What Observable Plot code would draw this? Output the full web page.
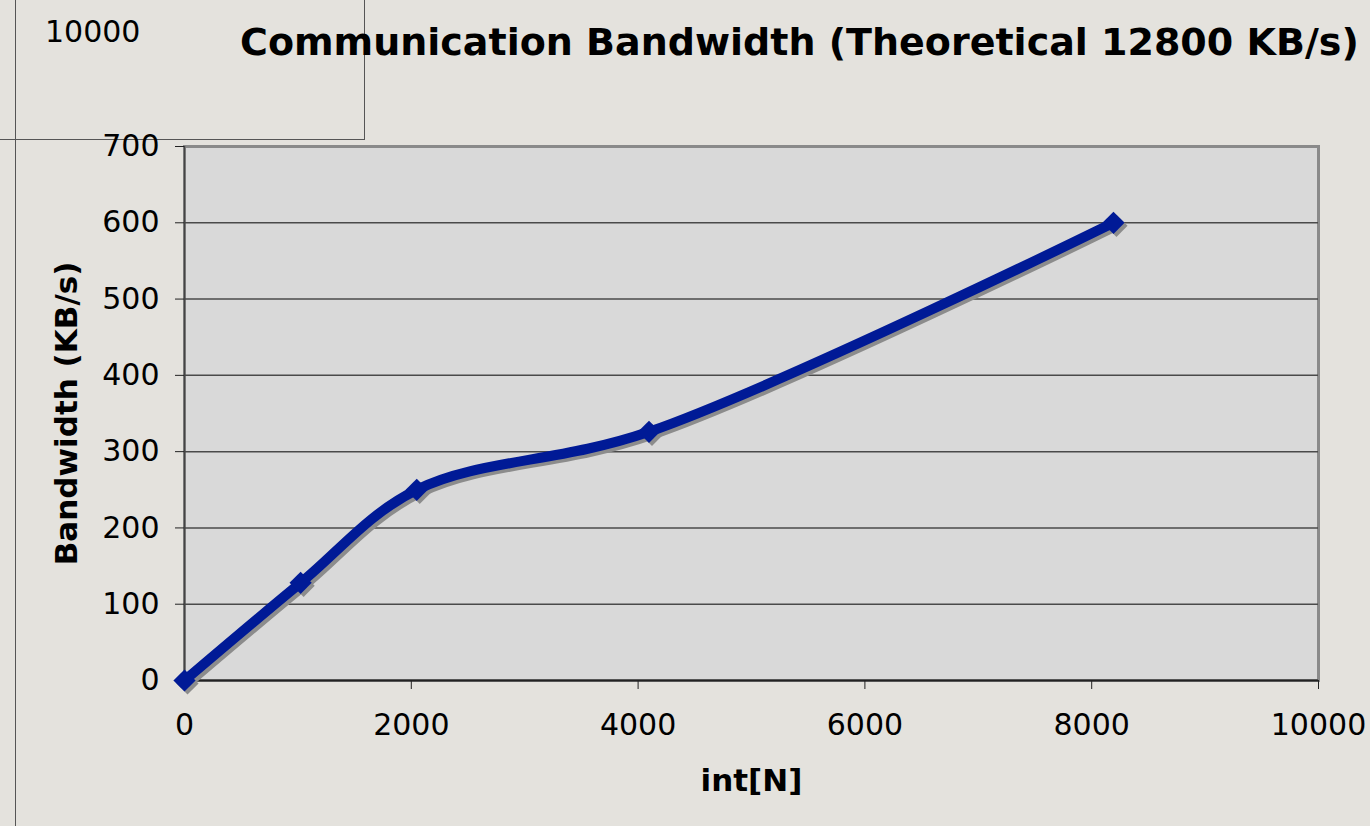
<!DOCTYPE html>
<html>
<head>
<meta charset="utf-8">
<script src="https://cdn.jsdelivr.net/npm/d3@7"></script>
<script src="https://cdn.jsdelivr.net/npm/@observablehq/plot@0.6"></script>
<style>
  html, body { margin: 0; padding: 0; }
  body {
    width: 1370px; height: 826px; overflow: hidden; position: relative;
    background: #e4e2dd;
    font-family: "DejaVu Sans", Verdana, sans-serif;
  }
  #chart { position: absolute; left: 0; top: 0; }
  .title {
    position: absolute; left: 240px; top: 19px; white-space: nowrap; line-height: 46px;
    font-weight: bold; font-size: 38px; color: #000;
  }
  .corner-text { position: absolute; left: 45px; top: 14px; font-size: 30px; line-height: 36px; color: #000; }
  .box { position: absolute; left: 0; top: 0; width: 365px; height: 140px;
         border-right: 1.5px solid #555; border-bottom: 1.5px solid #555; box-sizing: border-box; }
  .vline { position: absolute; left: 15px; top: 0; width: 0; height: 826px; border-left: 1.5px solid #555; }
</style>
</head>
<body>
<div class="box"></div>
<div class="vline"></div>
<div class="corner-text">10000</div>
<div class="title">Communication Bandwidth (Theoretical 12800 KB/s)</div>
<div id="chart"></div>
<script>
const nValues = [0, 1024, 2048, 4096, 8192];
const bandwidth = [0, 128, 250, 326, 600];
const xTicks = [0, 2000, 4000, 6000, 8000, 10000];
const yTicks = [0, 100, 200, 300, 400, 500, 600, 700];
const xLabel = "int[N]";
const yLabel = "Bandwidth (KB/s)";

const data = nValues.map((n, i) => ({n, bw: bandwidth[i]}));

const chart = Plot.plot({
  width: 1370,
  height: 826,
  marginLeft: 184,
  marginRight: 52,
  marginTop: 146,
  marginBottom: 146,
  style: {background: "transparent", fontFamily: "DejaVu Sans, Verdana, sans-serif", fontSize: "30px", color: "#000"},
  x: {domain: [0, 10000], ticks: xTicks, tickFormat: d => String(d), label: null},
  y: {domain: [0, 700], ticks: yTicks, tickFormat: d => String(d), label: null},
  marks: [
    Plot.frame({fill: "#d9d9d9", stroke: "#8a8a8a", strokeWidth: 3}),
    Plot.gridY(yTicks.filter(d => d > 0 && d < 700), {stroke: "#4a4a4a", strokeOpacity: 1, strokeWidth: 1.5}),
    Plot.ruleY([0], {stroke: "#222", strokeWidth: 2}),
    Plot.ruleX([0], {stroke: "#444", strokeWidth: 1.5}),
    Plot.axisX(xTicks, {tickSize: 9, tickPadding: 24, stroke: "#222", fontSize: 30, tickFormat: d => String(d)}),
    Plot.axisY(yTicks, {tickSize: 9, tickPadding: 16, stroke: "#222", fontSize: 30, tickFormat: d => String(d)}),
    Plot.line(data, {x: "n", y: "bw", curve: "catmull-rom", stroke: "#8c8c8c", strokeWidth: 10, dx: 3, dy: 3}),
    Plot.dot(data, {x: "n", y: "bw", symbol: "diamond2", r: 10, fill: "#8c8c8c", stroke: "none", dx: 3, dy: 3}),
    Plot.line(data, {x: "n", y: "bw", curve: "catmull-rom", stroke: "#001a96", strokeWidth: 10}),
    Plot.dot(data, {x: "n", y: "bw", symbol: "diamond2", r: 10, fill: "#001a96", stroke: "none"}),
    Plot.text([xLabel], {frameAnchor: "bottom", dy: 110, fontWeight: "bold", fontSize: 31, fill: "#000"}),
    Plot.text([yLabel], {frameAnchor: "left", textAnchor: "middle", dx: -117, rotate: -90, fontWeight: "bold", fontSize: 31, fill: "#000"})
  ]
});
document.getElementById("chart").appendChild(chart);
</script>
</body>
</html>
